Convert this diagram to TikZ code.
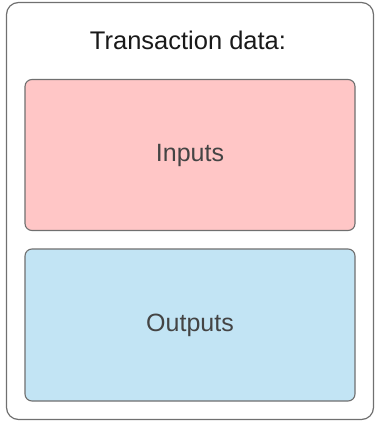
\documentclass[tikz,border=0pt]{standalone}
\usepackage{fontspec}
\setmainfont{Liberation Sans}
\definecolor{pinkfill}{HTML}{FFC6C6}
\definecolor{bluefill}{HTML}{C2E4F4}
\definecolor{edgegray}{HTML}{707070}
\definecolor{textgray}{HTML}{444444}
\tikzset{
  outerbox/.style={draw=edgegray, line width=1.2pt, rounded corners=12pt, fill=white},
  innerbox/.style={draw=edgegray, line width=1.1pt, rounded corners=7pt, minimum width=330pt, inner sep=0pt, font=\fontsize{25}{30}\selectfont, text=textgray},
}
\begin{document}
\begin{tikzpicture}[x=1pt,y=1pt]
\useasboundingbox (0,0) rectangle (375,-422);
\draw[outerbox] (6.5,-2.5) rectangle (373.5,-419.5);
\node[font=\fontsize{25.5}{30}\selectfont, text={black!90}, anchor=base] (title) at (188,-50) {Transaction data:};
\node[innerbox, fill=pinkfill, minimum height=151pt] (inputs) at (190,-155) {Inputs};
\node[innerbox, fill=bluefill, minimum height=152pt] (outputs) at (190,-325) {Outputs};
\end{tikzpicture}
\end{document}
